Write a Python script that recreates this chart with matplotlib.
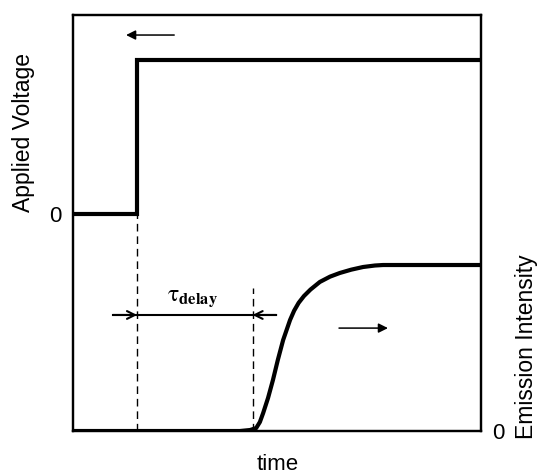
import matplotlib
matplotlib.use("Agg")
import matplotlib.pyplot as plt

plt.rcParams['font.family'] = ['Liberation Sans', 'DejaVu Sans']
plt.rcParams['mathtext.fontset'] = 'stix'

# Applied voltage (step)
volt_t = [0, 1.57, 1.57, 10]
volt_v = [0, 0, 1, 1]

# Emission intensity (delayed rise)
emis_t = [0, 4.09, 4.34, 4.49, 4.58, 4.66, 4.78, 4.90, 5.02, 5.15, 5.32, 5.42,
          5.53, 5.66, 5.82, 6.05, 6.30, 6.54, 6.82, 7.11, 7.40, 7.60, 10]
emis_e = [0, 0, 0.006, 0.018, 0.054, 0.108, 0.199, 0.307, 0.428, 0.548, 0.669,
          0.725, 0.772, 0.813, 0.852, 0.898, 0.930, 0.952, 0.972, 0.988, 0.997,
          1.0, 1.0]

t_step = 1.57
t_onset = 4.4

fig = plt.figure(figsize=(5.37, 4.75), dpi=100)
ax1 = fig.add_axes([0.136, 0.0926, 0.7597, 0.8758])
ax2 = ax1.twinx()

ax1.set_xlim(0, 10)
ax1.set_ylim(-1.409, 1.292)
ax2.set_ylim(0, 2.506)

ax1.plot(volt_t, volt_v, color='black', lw=3.0, solid_joinstyle='miter', zorder=3)
ax2.plot(emis_t, emis_e, color='black', lw=3.0, solid_joinstyle='round',
         solid_capstyle='butt', zorder=3)

# dashed markers
dash_kw = dict(color='black', lw=1.0, dashes=(5.5, 3.5))
ax2.plot([t_step, t_step], [0, 1.307], **dash_kw)
ax2.plot([t_onset, t_onset], [0, 0.861], **dash_kw)

# tau delay dimension line
y_tau = 0.699
ax2.plot([0.98, 4.98], [y_tau, y_tau], color='black', lw=1.5)
ax2.annotate('', xy=(t_step, y_tau), xytext=(0.98, y_tau),
             arrowprops=dict(arrowstyle='->', color='black', lw=1.5,
                             mutation_scale=14, shrinkA=0, shrinkB=0))
ax2.annotate('', xy=(t_onset, y_tau), xytext=(4.98, y_tau),
             arrowprops=dict(arrowstyle='->', color='black', lw=1.5,
                             mutation_scale=14, shrinkA=0, shrinkB=0))
ax2.text(2.94, 0.80, r'$\mathrm{\tau}_{\mathbf{delay}}$', fontsize=17,
         ha='center', va='center')

# axis-indicating arrows
ax1.annotate('', xy=(1.30, 1.162), xytext=(2.48, 1.162),
             arrowprops=dict(arrowstyle='-|>', color='black', lw=1.1,
                             mutation_scale=14, shrinkA=0, shrinkB=0))
ax2.annotate('', xy=(7.72, 0.62), xytext=(6.52, 0.62),
             arrowprops=dict(arrowstyle='-|>', color='black', lw=1.1,
                             mutation_scale=14, shrinkA=0, shrinkB=0))

for ax in (ax1, ax2):
    for s in ax.spines.values():
        s.set_linewidth(1.6)

ax1.set_xticks([])
ax1.set_yticks([0])
ax1.set_yticklabels(['0'], fontsize=16)
ax1.tick_params(axis='y', length=0, pad=8)
ax2.set_yticks([0])
ax2.set_yticklabels(['0'], fontsize=16)
ax2.tick_params(axis='y', length=0, pad=8)

fig.text(0.518, 0.022, 'time', fontsize=16, ha='center', va='center')
fig.text(0.043, 0.72, 'Applied Voltage', rotation=90, fontsize=16.5,
         ha='center', va='center')
fig.text(0.981, 0.27, 'Emission Intensity', rotation=90, fontsize=16.5,
         ha='center', va='center')

fig.savefig('out.png', dpi=100)
